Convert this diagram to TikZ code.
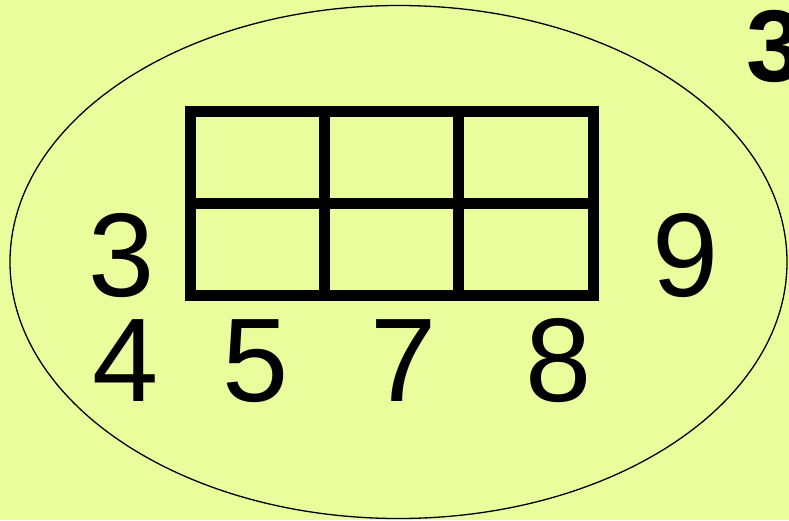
\documentclass[tikz,border=0pt]{standalone}
\usepackage{fontspec}
\setmainfont{Liberation Sans}
\definecolor{bg}{HTML}{E9FD9D}
\begin{document}
\begin{tikzpicture}[x=1pt,y=-1pt,
  digit/.style={anchor=base,inner sep=0pt,font=\fontsize{119}{119}\selectfont},
  gridline/.style={line width=11pt,line join=miter}]
\useasboundingbox (0,0) rectangle (789,520);
\clip (0,0) rectangle (789,520);
\fill[bg] (0,0) rectangle (789,520);
\draw[line width=1.3pt] (398.5,262) ellipse [x radius=388.5, y radius=256.5];
% grid
\draw[gridline] (190.5,111.5) rectangle (593,295.5);
\draw[gridline] (190.5,203.5) -- (593,203.5);
\draw[gridline] (324.5,111.5) -- (324.5,295.5);
\draw[gridline] (458.5,111.5) -- (458.5,295.5);
% labels
\node[digit] (l3) at (121.5,296) {3};
\node[digit] (l9) at (686,296) {9};
\node[digit] (l4) at (125.5,401) {4};
\node[digit] (l5) at (255.5,401) {5};
\node[digit] (l7) at (403.5,401) {7};
\node[digit] (l8) at (558.5,401) {8};
\node[anchor=base west,inner sep=0pt,font=\fontsize{102}{102}\selectfont\bfseries] (t3) at (746,81) {3};
\end{tikzpicture}
\end{document}
